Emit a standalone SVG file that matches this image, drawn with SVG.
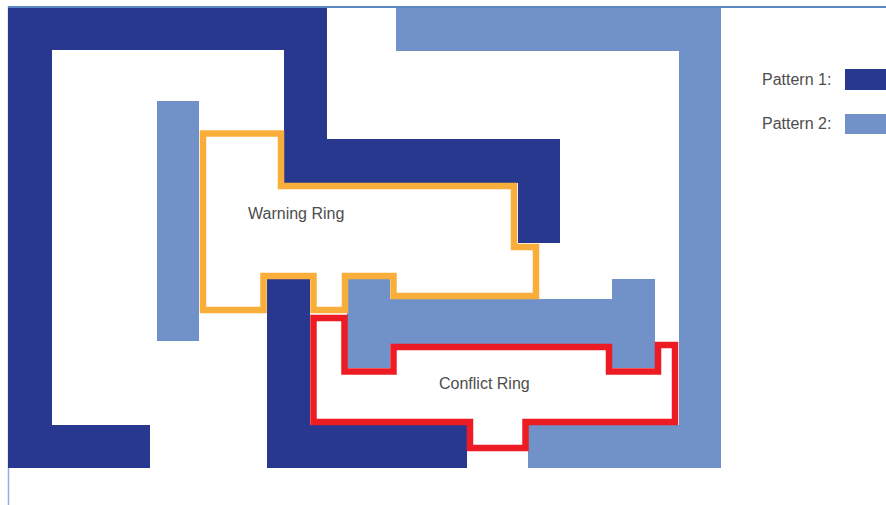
<svg xmlns="http://www.w3.org/2000/svg" width="886" height="505" viewBox="0 0 886 505">
<style>
.p1{fill:#28388e}
.p2{fill:#7092c9}
.ring{fill:none;stroke-width:6.5;stroke-linejoin:miter}
.warn{stroke:#f9ae3b}
.conf{stroke:#ed1c24}
.lbl{font-family:"Liberation Sans",Arial,sans-serif;font-size:16px;fill:#4d4d4d}
</style>
<rect width="886" height="505" fill="#ffffff"/>
<g id="frame">
<line x1="8.5" y1="6" x2="8.5" y2="505" stroke="#8fb0dc" stroke-width="1.5"/>
</g>
<g id="pattern1-outer">
<polygon class="p1" points="8,6 327,6 327,139 560,139 560,243 518,243 518,183 284,183 284,50 52,50 52,425 150,425 150,468 8,468"/>
</g>
<g id="pattern1-inner">
<polygon class="p1" points="267,279 310,279 310,425 467,425 467,468 267,468"/>
</g>
<g id="pattern2-outer">
<polygon class="p2" points="396,8 721,8 721,468 528,468 528,425 679,425 679,51 396,51"/>
</g>
<g id="pattern2-left">
<rect class="p2" x="157" y="101" width="42" height="240"/>
</g>
<g id="pattern2-middle">
<polygon class="p2" points="347,279 390,279 390,299 612,299 612,279 655,279 655,368 612,368 612,344 390,344 390,368 347,368"/>
</g>
<g id="frame-top">
<line x1="8" y1="7" x2="886" y2="7" stroke="#5a86c2" stroke-width="2"/>
</g>
<g id="connectors">
<path id="warning-ring" class="ring warn" d="M203,133.5 H281 V186 H514 V247 H536 V296 H393.5 V276 H345 V310 H313.5 V276 H263.5 V310 H203 Z"/>
<path id="conflict-ring" class="ring conf" d="M313.5,318 H344.5 V371.5 H393.5 V347 H609 V371.5 H658 V345 H675 V422 H525.5 V448 H470 V422 H313.5 Z"/>
</g>
<g id="warning-label"><text class="lbl" x="248" y="219">Warning Ring</text></g>
<g id="conflict-label"><text class="lbl" x="439" y="389">Conflict Ring</text></g>
<g id="legend">
<text class="lbl" x="762" y="85">Pattern 1:</text>
<rect class="p1" x="845" y="69" width="41" height="21"/>
<text class="lbl" x="762" y="129">Pattern 2:</text>
<rect class="p2" x="845" y="114" width="41" height="20"/>
</g>
</svg>
